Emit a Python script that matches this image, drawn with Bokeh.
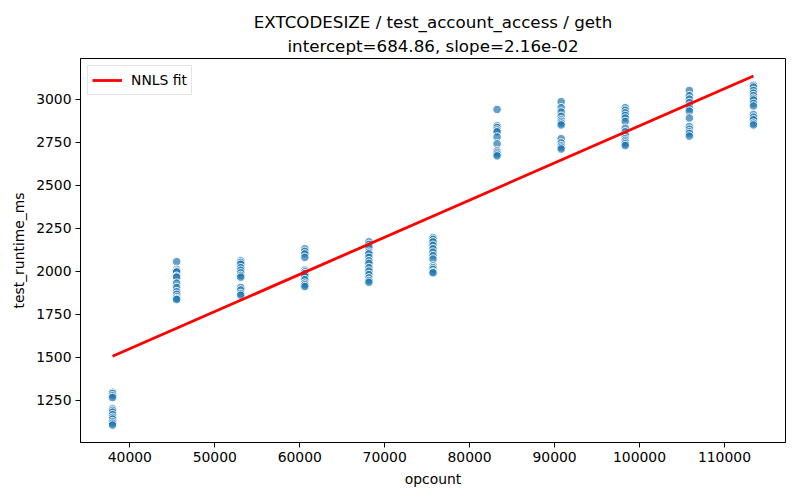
from bokeh.plotting import figure
from bokeh.models import Range1d, SingleIntervalTicker, NumeralTickFormatter, ColumnDataSource, Title
from bokeh.embed import file_html
from bokeh.resources import INLINE

# ---- data ----
opcounts = [37966, 45511, 53055, 60600, 68145, 75689, 83234, 90779, 98323, 105868, 113413]
runtimes = [
    [1295, 1288, 1275, 1265, 1200, 1190, 1180, 1165, 1150, 1140, 1125, 1115, 1105],
    [2055, 2010, 2000, 1995, 1970, 1965, 1930, 1905, 1880, 1865, 1850, 1840, 1835],
    [2060, 2050, 2040, 2020, 2005, 1990, 1975, 1965, 1905, 1890, 1870, 1860],
    [2130, 2115, 2100, 2080, 2005, 1995, 1985, 1970, 1950, 1930, 1920, 1910],
    [2170, 2155, 2140, 2110, 2100, 2080, 2060, 2045, 2020, 2000, 1980, 1960, 1945, 1935],
    [2195, 2185, 2170, 2150, 2130, 2110, 2090, 2070, 2030, 2020, 2010, 1995, 1990],
    [2940, 2845, 2835, 2820, 2810, 2780, 2740, 2700, 2690, 2680, 2670],
    [2985, 2950, 2925, 2900, 2880, 2870, 2860, 2850, 2770, 2745, 2730, 2720, 2710],
    [2950, 2935, 2920, 2905, 2890, 2870, 2830, 2810, 2790, 2770, 2760, 2750, 2740, 2730],
    [3050, 3020, 3000, 2980, 2960, 2945, 2930, 2890, 2840, 2825, 2810, 2800, 2785],
    [3080, 3070, 3050, 3035, 3020, 3005, 2995, 2975, 2960, 2910, 2895, 2880, 2860, 2850],
]
intercept = 684.86
slope = 2.16e-02
title_line1 = "EXTCODESIZE / test_account_access / geth"
title_line2 = "intercept=684.86, slope=2.16e-02"

xs, ys = [], []
for x, vals in zip(opcounts, runtimes):
    for v in vals:
        xs.append(x)
        ys.append(v)

fit_x = [min(opcounts), max(opcounts)]
fit_y = [intercept + slope * v for v in fit_x]

x_lo, x_hi = min(xs), max(xs)
y_lo, y_hi = min(ys + fit_y), max(ys + fit_y)
xp = (x_hi - x_lo) * 0.05
yp = (y_hi - y_lo) * 0.05

FONT = "DejaVu Sans"

p = figure(width=792, height=492, output_backend="svg", toolbar_location=None,
           x_range=Range1d(x_lo - xp, x_hi + xp), y_range=Range1d(y_lo - yp, y_hi + yp),
           min_border_left=80, min_border_right=7, min_border_top=58, min_border_bottom=50)
p.title = None
p.add_layout(Title(text=title_line2, align="center", text_font=FONT, text_font_size="16.7px",
                   text_font_style="normal", text_color="black", standoff=5, offset=0), "above")
p.add_layout(Title(text=title_line1, align="center", text_font=FONT, text_font_size="16.7px",
                   text_font_style="normal", text_color="black", standoff=0), "above")

src = ColumnDataSource(dict(x=xs, y=ys))
p.scatter("x", "y", source=src, size=8.5, fill_color="#1f77b4", fill_alpha=0.7,
          line_color="white", line_width=1, line_alpha=0.9)
p.line(fit_x, fit_y, line_color="red", line_width=2.8, legend_label="NNLS fit")

p.xgrid.visible = False
p.ygrid.visible = False
p.outline_line_color = "black"
p.outline_line_width = 1
p.outline_line_alpha = 1

p.xaxis.ticker = SingleIntervalTicker(interval=10000)
p.yaxis.ticker = SingleIntervalTicker(interval=250)
p.xaxis.formatter = NumeralTickFormatter(format="0")
p.yaxis.formatter = NumeralTickFormatter(format="0")
p.xaxis.axis_label = "opcount"
p.yaxis.axis_label = "test_runtime_ms"
for ax in (p.xaxis[0], p.yaxis[0]):
    ax.axis_line_color = "black"
    ax.major_tick_line_color = "black"
    ax.major_tick_out = 5
    ax.major_tick_in = 0
    ax.minor_tick_line_color = None
    ax.major_label_text_font = FONT
    ax.major_label_text_font_size = "13.9px"
    ax.major_label_text_color = "black"
    ax.axis_label_text_font = FONT
    ax.axis_label_text_font_size = "13.9px"
    ax.axis_label_text_font_style = "normal"
    ax.axis_label_text_color = "black"
    ax.major_label_standoff = 4
    ax.axis_label_standoff = 6

lg = p.legend[0]
lg.location = "top_left"
lg.margin = 7
lg.padding = 4
lg.border_line_color = "#cccccc"
lg.border_line_width = 1
lg.background_fill_alpha = 0.8
lg.label_text_font = FONT
lg.label_text_font_size = "13.9px"
lg.label_text_color = "black"
lg.glyph_width = 30
lg.label_standoff = 9

open("out.html", "w").write(file_html(p, INLINE))
